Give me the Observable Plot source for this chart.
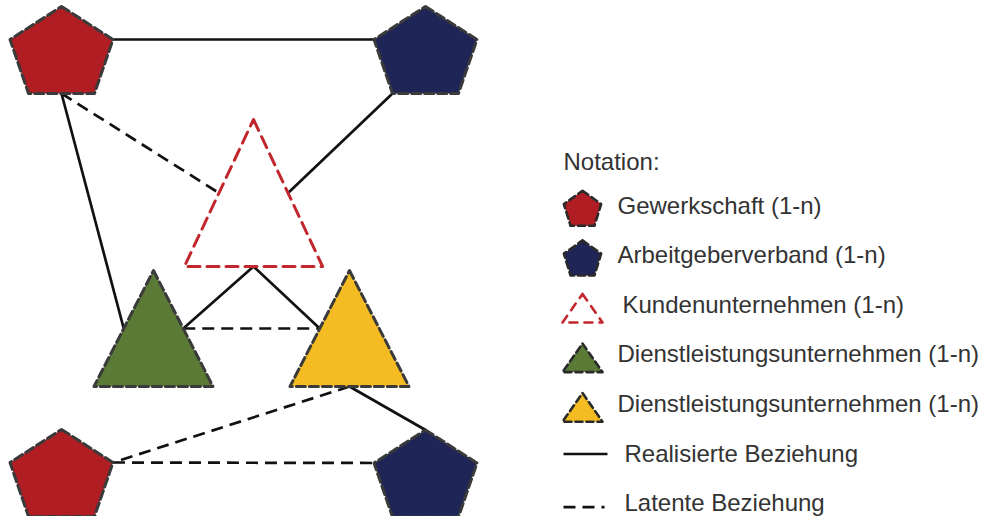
<!DOCTYPE html>
<html><head><meta charset="utf-8">
<script src="https://cdn.jsdelivr.net/npm/d3@7"></script>
<script src="https://cdn.jsdelivr.net/npm/@observablehq/plot@0.6"></script>
<style>body{margin:0;background:#fff;overflow:hidden}</style>
</head><body><div id="chart"></div>
<script>
// ---- data ----
const nodeIds   = ["G1", "A1", "K", "D1", "D2", "G2", "A2"];
const nodeKinds = ["Gewerkschaft", "Arbeitgeberverband", "Kundenunternehmen", "Dienstleistung A", "Dienstleistung B", "Gewerkschaft", "Arbeitgeberverband"];
const nodeX     = [61, 425, 253, 153, 349, 61, 425];
const nodeY     = [50, 50, 192.5, 328, 328, 473, 473.5];

const linkFrom       = ["G1", "G1", "G1", "A1", "K", "K", "D1", "D2", "D2", "G2"];
const linkFromAnchor = ["right", "bottom", "bottom", "bottomLeft", "base", "base", "right", "base", "base", "right"];
const linkTo         = ["A1", "D1", "K", "K", "D1", "D2", "D2", "G2", "A2", "A2"];
const linkToAnchor   = ["left", "left", "left", "right", "right", "left", "left", "right", "top", "left"];
const linkType       = ["realisiert", "realisiert", "latent", "realisiert", "realisiert", "realisiert", "latent", "latent", "realisiert", "latent"];

const legendTitle  = "Notation:";
const legendKeys   = ["Gewerkschaft", "Arbeitgeberverband", "Kundenunternehmen", "Dienstleistung A", "Dienstleistung B", "realisiert", "latent"];
const legendLabels = ["Gewerkschaft (1-n)", "Arbeitgeberverband (1-n)", "Kundenunternehmen (1-n)", "Dienstleistungsunternehmen (1-n)", "Dienstleistungsunternehmen (1-n)", "Realisierte Beziehung", "Latente Beziehung"];

// ---- styles / geometry ----
const kindDomain = ["Gewerkschaft", "Arbeitgeberverband", "Kundenunternehmen", "Dienstleistung A", "Dienstleistung B"];
const kindColors = ["#b01e24", "#1f2657", "#ffffff", "#5a7a36", "#f4bc22"];
const geom = {
  "Gewerkschaft":       {shape: "pentagon", s: 44, k: 1},
  "Arbeitgeberverband": {shape: "pentagon", s: 44, k: 1},
  "Kundenunternehmen":  {shape: "triangle", s: 73.5, k: 0.94},
  "Dienstleistung A":   {shape: "triangle", s: 58, k: 1.026},
  "Dienstleistung B":   {shape: "triangle", s: 58, k: 1.026}
};
function template(shape, k) {
  if (shape === "pentagon") return [[0,-1],[1.17*k,-0.25],[0.75*k,0.977],[-0.75*k,0.977],[-1.17*k,-0.25]];
  return [[0,-1],[k,1],[-k,1]];
}
function anchors(shape, k) {
  if (shape === "pentagon") return {top:[0,-1], right:[1.17*k,-0.25], left:[-1.17*k,-0.25], bottom:[0,0.977], bottomLeft:[-0.75*k,0.977]};
  return {left:[-k/2,0], right:[k/2,0], base:[0,1]};
}

const nodes = nodeIds.map((id, i) => ({id, kind: nodeKinds[i], cx: nodeX[i], cy: nodeY[i]}));
const nodeById = new Map(nodes.map(n => [n.id, n]));
function anchorPoint(id, a) {
  const n = nodeById.get(id), g = geom[n.kind];
  const p = anchors(g.shape, g.k)[a];
  return [n.cx + p[0]*g.s, n.cy + p[1]*g.s];
}
const links = linkFrom.map((f, i) => {
  const [x1, y1] = anchorPoint(f, linkFromAnchor[i]);
  const [x2, y2] = anchorPoint(linkTo[i], linkToAnchor[i]);
  return {x1, y1, x2, y2, type: linkType[i]};
});
function polygonPoints(id, kind, cx, cy, s, shape, k) {
  return template(shape, k).map(([u, v]) => ({id, kind, x: cx + u*s, y: cy + v*s}));
}
const nodeVerts = nodes.flatMap(n => {
  const g = geom[n.kind];
  return polygonPoints(n.id, n.kind, n.cx, n.cy, g.s, g.shape, g.k);
});

// legend layout
const legX = 563, legIconX = 582, legRow0 = 205.5, legStep = 49.6;
const legendRows = legendKeys.map((key, i) => ({key, label: legendLabels[i], y: legRow0 + i*legStep}));
const legendShapeRows = legendRows.filter(r => kindDomain.includes(r.key));
const legendVerts = legendShapeRows.flatMap(r => {
  const shape = geom[r.key].shape;
  return shape === "pentagon"
    ? polygonPoints("L" + r.key, r.key, legIconX, r.y + 2.5, 17.7, "pentagon", 0.9)
    : polygonPoints("L" + r.key, r.key, legIconX, r.y + 3, 14.3, "triangle", 1.4);
});
const legendLines = legendRows.filter(r => r.key === "realisiert" || r.key === "latent").map(r => ({
  type: r.key, x1: legX, x2: r.key === "latent" ? legX + 41 : legX + 44, y: r.y + (r.key === "latent" ? 3.5 : 0)
}));
const legendText = legendRows.map(r => ({
  label: r.label, y: r.y,
  x: 617 + (r.key === "Kundenunternehmen" ? 5 : (r.key === "realisiert" || r.key === "latent") ? 7 : 0)
}));

const filled = d => d.kind !== "Kundenunternehmen";

const chart = Plot.plot({
  width: 987, height: 516, margin: 0,
  x: {domain: [0, 987], range: [0, 987], axis: null},
  y: {domain: [0, 516], range: [0, 516], axis: null},
  color: {domain: kindDomain, range: kindColors},
  style: {background: "#fff", fontFamily: "'Liberation Sans', Arial, sans-serif"},
  marks: [
    Plot.link(links.filter(d => d.type === "realisiert"), {x1: "x1", y1: "y1", x2: "x2", y2: "y2", stroke: "#111", strokeWidth: 2.7}),
    Plot.link(links.filter(d => d.type === "latent"), {x1: "x1", y1: "y1", x2: "x2", y2: "y2", stroke: "#111", strokeWidth: 2.7, strokeDasharray: "12,7"}),
    Plot.line(nodeVerts.filter(filled), {x: "x", y: "y", z: "id", fill: "kind", stroke: "#3a3a3a", strokeWidth: 3, strokeDasharray: "9,4", curve: "linear-closed"}),
    Plot.line(nodeVerts.filter(d => !filled(d)), {x: "x", y: "y", z: "id", fill: "none", stroke: "#c1272d", strokeWidth: 3, strokeDasharray: "12,7", curve: "linear-closed"}),
    // legend
    Plot.text([legendTitle], {x: legX, y: 162, text: d => d, textAnchor: "start", fontSize: 24, fill: "#333"}),
    Plot.line(legendVerts.filter(filled), {x: "x", y: "y", z: "id", fill: "kind", stroke: "#2a2a2a", strokeWidth: 2.6, strokeDasharray: "7,4", curve: "linear-closed"}),
    Plot.line(legendVerts.filter(d => !filled(d)), {x: "x", y: "y", z: "id", fill: "none", stroke: "#c1272d", strokeWidth: 2.6, strokeDasharray: "8,7", curve: "linear-closed"}),
    Plot.link(legendLines.filter(d => d.type === "realisiert"), {x1: "x1", x2: "x2", y1: "y", y2: "y", stroke: "#111", strokeWidth: 2.7}),
    Plot.link(legendLines.filter(d => d.type === "latent"), {x1: "x1", x2: "x2", y1: "y", y2: "y", stroke: "#111", strokeWidth: 2.7, strokeDasharray: "12,7"}),
    Plot.text(legendText, {x: "x", y: "y", text: "label", textAnchor: "start", fontSize: 24, fill: "#333"})
  ]
});
document.getElementById("chart").appendChild(chart);
</script>
</body></html>
